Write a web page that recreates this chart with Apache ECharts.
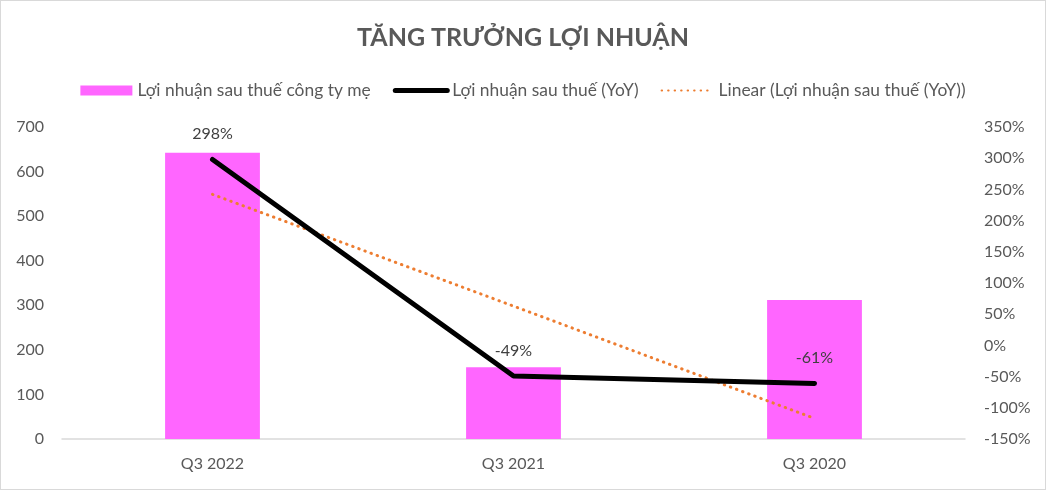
<!DOCTYPE html>
<html>
<head>
<meta charset="utf-8">
<script src="https://cdn.jsdelivr.net/npm/echarts@6/dist/echarts.min.js"></script>
<style>
  html, body { margin: 0; padding: 0; background: #fff; }
  #chart { width: 1046px; height: 490px; box-sizing: border-box; border: 1px solid #d9d9d9; }
</style>
</head>
<body>
<div id="chart"></div>
<script>
const categories = ['Q3 2022', 'Q3 2021', 'Q3 2020'];
const profitValues = [642, 161, 312];
const yoyValues = [298, -49, -61];
const trendValues = [242, 63, -117];
const seriesNames = ['Lợi nhuận sau thuế công ty mẹ', 'Lợi nhuận sau thuế (YoY)', 'Linear (Lợi nhuận sau thuế (YoY))'];

const font = 'Lato, "Noto Sans", sans-serif';
const textColor = '#595959';

const chart = echarts.init(document.getElementById('chart'));
chart.setOption({
  animation: false,
  title: {
    text: 'TĂNG TRƯỞNG LỢI NHUẬN',
    left: 'center',
    top: 19,
    textStyle: { fontFamily: font, fontSize: 25, fontWeight: 'bold', color: textColor }
  },
  legend: {
    top: 76,
    left: 'center',
    itemGap: 22,
    itemWidth: 52,
    itemHeight: 10,
    textStyle: { fontFamily: font, fontSize: 17.4, color: textColor },
    data: [
      { name: seriesNames[0], icon: 'rect' },
      { name: seriesNames[1], itemStyle: { opacity: 0 }, lineStyle: { width: 5, cap: 'round' } },
      { name: seriesNames[2], itemStyle: { opacity: 0 } }
    ]
  },
  grid: { left: 61, right: 80, top: 126, bottom: 50 },
  xAxis: {
    type: 'category',
    data: categories,
    axisTick: { show: false },
    axisLine: { lineStyle: { color: '#d9d9d9', width: 1.5 } },
    axisLabel: { fontFamily: font, fontSize: 16, color: textColor, margin: 17 }
  },
  yAxis: [
    {
      type: 'value',
      min: 0, max: 700, interval: 100,
      splitLine: { show: false },
      axisLabel: { fontFamily: font, fontSize: 16, color: textColor, margin: 18 }
    },
    {
      type: 'value',
      min: -150, max: 350, interval: 50,
      splitLine: { show: false },
      axisLabel: { fontFamily: font, fontSize: 16, color: textColor, margin: 19, formatter: '{value}%' }
    }
  ],
  series: [
    {
      name: seriesNames[0],
      type: 'bar',
      data: profitValues,
      barWidth: '31.5%',
      itemStyle: { color: '#ff66ff' }
    },
    {
      name: seriesNames[1],
      type: 'line',
      yAxisIndex: 1,
      data: yoyValues,
      symbol: 'circle',
      symbolSize: 1,
      itemStyle: { color: '#000' },
      lineStyle: { color: '#000', width: 5, cap: 'round', join: 'round' },
      label: {
        show: true,
        position: 'top',
        distance: 17,
        fontFamily: font,
        fontSize: 16,
        color: '#404040',
        formatter: p => p.value + '%'
      },
      z: 3
    },
    {
      name: seriesNames[2],
      type: 'line',
      yAxisIndex: 1,
      data: trendValues,
      symbol: 'none',
      itemStyle: { color: '#ed7d31' },
      lineStyle: { color: '#ed7d31', width: 3, type: [0.5, 6], cap: 'round' },
      z: 2
    }
  ]
});
</script>
</body>
</html>
